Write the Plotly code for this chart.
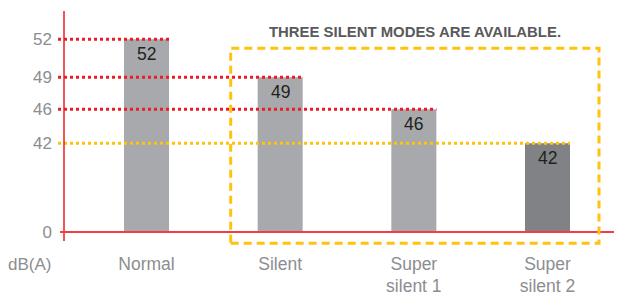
import numpy as np
import plotly.graph_objects as go

# ---- data ----
categories = ["Normal", "Silent", "Super<br>silent 1", "Super<br>silent 2"]
noise_db = [52, 49, 46, 42]
tick_db = [0, 42, 46, 49, 52]
tick_labels = ["0", "42", "46", "49", "52"]
title_text = "THREE SILENT MODES ARE AVAILABLE."
unit_label = "dB(A)"

# ---- style ----
bar_colors = ["#a7a9ac", "#a7a9ac", "#a7a9ac", "#808285"]
guide_colors = ["#ed1c24", "#ed1c24", "#ed1c24", "#ffc20e"]
RED = "#ed1c24"
YELLOW = "#ffc20e"
GRAY_TXT = "#8c8d90"
FONT = "Arial, Liberation Sans, sans-serif"

# broken (schematic) value axis: screen height of each tick above the baseline
tick_height = [0, 88.7, 122.7, 154.7, 192.7]
bar_heights = np.interp(noise_db, tick_db, tick_height)

# page body has an 8px margin: figure is laid out in page coords minus 8
OFF = 8
W, H = 622 - OFF, 293 - OFF
ML = 58 - OFF
BASE = 232 - OFF          # baseline, figure px from top
MB = H - BASE
PW, PH = W - ML, BASE
step = 133.67
x_range = [-88.5 / step, (PW - 88.5) / step]
bar_w = 0.337


def px(rx):  # page x -> paper fraction
    return (rx - OFF - ML) / PW


def py(ry):  # page y -> paper fraction
    return (BASE - (ry - OFF)) / PH


fig = go.Figure()
fig.add_trace(go.Bar(
    x=list(range(len(categories))), y=bar_heights,
    width=bar_w, marker=dict(color=bar_colors, line=dict(width=0)),
    hoverinfo="skip",
))

shapes = []
for i, h in enumerate(bar_heights):
    shapes.append(dict(type="line", xref="x", yref="y",
                       x0=x_range[0], x1=i + bar_w / 2, y0=h, y1=h,
                       line=dict(color=guide_colors[i], width=3, dash="dot"),
                       layer="above"))
shapes.append(dict(type="line", xref="paper", yref="paper",
                   x0=px(64), x1=px(64), y0=py(241), y1=py(11),
                   line=dict(color=RED, width=1.5)))
shapes.append(dict(type="line", xref="paper", yref="paper",
                   x0=px(60), x1=1, y0=0, y1=0,
                   line=dict(color="#ef3e46", width=2)))
shapes.append(dict(type="rect", xref="paper", yref="paper",
                   x0=px(230.7), x1=px(599), y0=py(243.3), y1=py(48.3),
                   line=dict(color=YELLOW, width=3, dash="8px,5px"),
                   fillcolor="rgba(0,0,0,0)"))

annotations = [
    dict(text="<b>" + title_text + "</b>", xref="paper", yref="paper",
         x=px(415), y=py(32), showarrow=False,
         xanchor="center", yanchor="middle",
         font=dict(family=FONT, size=14.9, color="#58595b")),
    dict(text=unit_label, xref="paper", yref="paper",
         x=px(53), y=py(264), showarrow=False,
         xanchor="right", yanchor="middle",
         font=dict(family=FONT, size=17, color=GRAY_TXT)),
]
# value labels just inside the top of each bar
for i, (v, h) in enumerate(zip(noise_db, bar_heights)):
    annotations.append(dict(text=str(v), xref="x", yref="y", x=i, y=h,
                            showarrow=False, xanchor="center",
                            yanchor="middle", yshift=-15,
                            font=dict(family=FONT, size=17.5, color="#231f20")))

fig.update_layout(
    width=W, height=H, margin=dict(l=ML, r=0, t=0, b=MB, pad=0, autoexpand=False),
    paper_bgcolor="white", plot_bgcolor="white",
    showlegend=False, shapes=shapes, annotations=annotations,
    xaxis=dict(type="linear", range=x_range, tickvals=list(range(len(categories))),
               ticktext=categories, showgrid=False, zeroline=False,
               showline=False, ticks="", ticklabelstandoff=19, automargin=False,
               tickfont=dict(family=FONT, size=17.5, color=GRAY_TXT)),
    yaxis=dict(range=[0, PH], tickvals=tick_height, ticktext=tick_labels,
               showgrid=False, zeroline=False, showline=False, ticks="",
               ticklabelstandoff=5, automargin=False,
               tickfont=dict(family=FONT, size=17, color=GRAY_TXT)),
)

fig.write_html("out.html")
